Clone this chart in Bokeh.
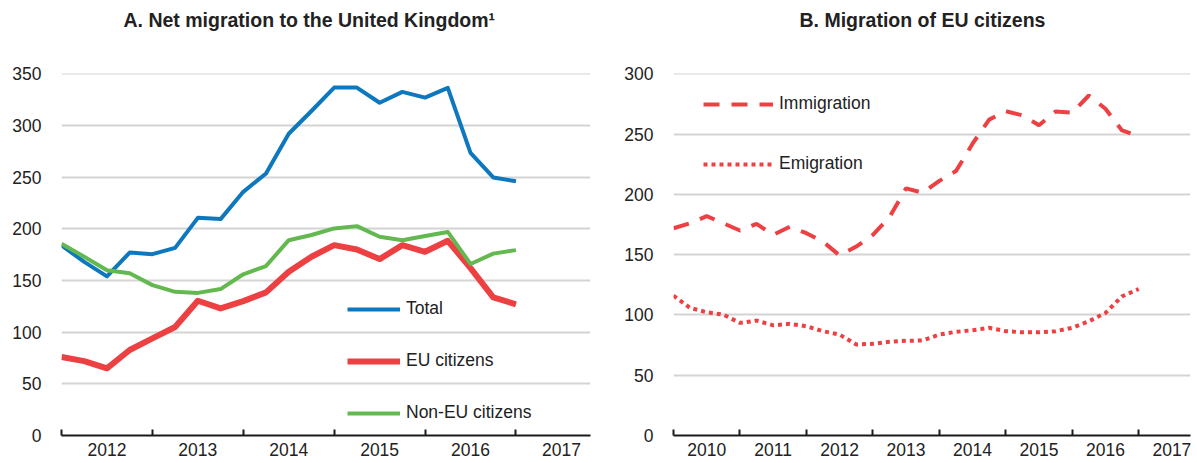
from bokeh.plotting import figure
from bokeh.layouts import row
from bokeh.models import FixedTicker, Legend, LegendItem, Range1d, Title
from bokeh.embed import file_html
from bokeh.resources import INLINE

FONT = "'Liberation Sans', Arial, sans-serif"
TXT = "#222222"
FS = "17.5px"

# ---------------- Panel A data (quarterly, thousands) ----------------
a_quarters = ["2012Q1", "2012Q2", "2012Q3", "2012Q4", "2013Q1", "2013Q2", "2013Q3",
              "2013Q4", "2014Q1", "2014Q2", "2014Q3", "2014Q4", "2015Q1", "2015Q2",
              "2015Q3", "2015Q4", "2016Q1", "2016Q2", "2016Q3", "2016Q4", "2017Q1"]
total = [184, 168, 154, 177, 175.5, 181.6, 210.6, 209.4, 235.8, 253.6, 292, 314,
         336.7, 336.7, 322, 332.5, 327, 336.4, 273.5, 249.7, 246]
eu_citizens = [76, 72, 65, 82.7, 94, 105, 130.4, 123, 130, 138.5, 158.4, 173,
               184.2, 180, 170.7, 184.2, 177.8, 188.4, 162, 133.6, 127]
non_eu_citizens = [185.5, 173, 160, 157, 145.5, 139, 138, 141.7, 156, 164, 189, 194,
                   200.4, 202.6, 192.3, 189, 193, 197, 166, 176, 179.4]
a_years = [2012, 2013, 2014, 2015, 2016, 2017]
a_yticks = [0, 50, 100, 150, 200, 250, 300, 350]
a_title = "A. Net migration to the United Kingdom\u00b9"

# ---------------- Panel B data (quarterly, thousands) ----------------
b_quarters = [f"{y}Q{q}" for y in range(2010, 2017) for q in range(1, 5)] + ["2017Q1"]
immigration = [171.9, 176, 182, 176, 170, 175.5, 166.4, 173.2, 167.8, 160.8, 149.3,
               156.7, 166.4, 181, 205, 201.3, 211.2, 219.3, 242, 262, 269, 265.5,
               257.3, 268.8, 267.8, 282, 271, 253, 248.2]
emigration = [116, 105.8, 102.2, 100.2, 93.4, 95.3, 91.4, 92.6, 90.6, 86.5, 83.7,
              75.5, 76, 77.7, 78.5, 78.8, 83.7, 86, 87.3, 89.3, 86.5, 85.6, 85.6,
              86.5, 89.3, 94.7, 101.6, 115.4, 121.5]
b_years = [2010, 2011, 2012, 2013, 2014, 2015, 2016, 2017]
b_yticks = [0, 50, 100, 150, 200, 250, 300]
b_title = "B. Migration of EU citizens"

H = 463
TOP = 73
BOTTOM = 28


def qpos(labels):
    return [int(s[:4]) + (int(s[5]) - 1) / 4 for s in labels]


def style(p, years, yticks, title_offset):
    p.outline_line_color = None
    p.background_fill_color = "white"
    p.border_fill_color = "white"
    xa = p.xaxis[0]
    xa.ticker = FixedTicker(ticks=[y + 0.5 for y in years], minor_ticks=years)
    xa.major_label_overrides = {y + 0.5: str(y) for y in years}
    xa.major_tick_in = 0
    xa.major_tick_out = 0
    xa.minor_tick_in = 6
    xa.minor_tick_out = 0
    xa.minor_tick_line_color = "#1a1a1a"
    xa.minor_tick_line_width = 2
    xa.axis_line_color = "#1a1a1a"
    xa.axis_line_width = 2
    xa.major_label_text_font = FONT
    xa.major_label_text_font_size = FS
    xa.major_label_text_color = TXT
    xa.major_label_standoff = 7
    p.xgrid.grid_line_color = None
    ya = p.yaxis[0]
    ya.ticker = FixedTicker(ticks=yticks)
    ya.axis_line_color = None
    ya.major_tick_line_color = None
    ya.minor_tick_line_color = None
    ya.major_label_text_font = FONT
    ya.major_label_text_font_size = FS
    ya.major_label_text_color = TXT
    ya.major_label_standoff = 14
    p.ygrid.ticker = FixedTicker(ticks=[t for t in yticks if t > 0])
    p.ygrid.grid_line_color = "#d4d4d4"
    p.ygrid.grid_line_width = 2
    # title (outermost) and a blank spacer panel between it and the frame
    p.title.text_font = FONT
    p.title.text_font_size = "19.5px"
    p.title.text_font_style = "bold"
    p.title.text_color = TXT
    p.title.align = "left"
    p.title.offset = title_offset
    p.title.standoff = 10
    p.add_layout(Title(text=" ", text_font_size="10px", standoff=25), "above")


# ---------------- Panel A ----------------
pa = figure(width=600, height=H, output_backend="svg", toolbar_location=None,
            title=a_title,
            x_range=Range1d(2012.0, 2017.82), y_range=Range1d(0, 350.3),
            min_border_left=61, min_border_right=10, min_border_top=TOP,
            min_border_bottom=BOTTOM)
xa_pts = qpos(a_quarters)
r_total = pa.line(xa_pts, total, line_color="#0E78BE", line_width=4, line_join="round")
r_eu = pa.line(xa_pts, eu_citizens, line_color="#ED4043", line_width=6, line_join="round")
r_non = pa.line(xa_pts, non_eu_citizens, line_color="#63B950", line_width=4, line_join="round")
style(pa, a_years, a_yticks, 62)
leg_a = Legend(items=[LegendItem(label="Total", renderers=[r_total]),
                     LegendItem(label="EU citizens", renderers=[r_eu]),
                     LegendItem(label="Non-EU citizens", renderers=[r_non])],
               location=(286, 12), glyph_width=53, glyph_height=20, label_height=20,
               spacing=31, label_standoff=6, padding=0, margin=0,
               border_line_color=None, background_fill_alpha=0,
               label_text_font=FONT, label_text_font_size=FS, label_text_color=TXT)
pa.add_layout(leg_a)

# ---------------- Panel B ----------------
pb = figure(width=597, height=H, output_backend="svg", toolbar_location=None,
            title=b_title,
            x_range=Range1d(2010.0, 2017.78), y_range=Range1d(0, 300.25),
            min_border_left=73, min_border_right=7, min_border_top=TOP,
            min_border_bottom=BOTTOM)
xb_pts = qpos(b_quarters)
r_imm = pb.line(xb_pts, immigration, line_color="#ED4043", line_width=4,
                line_dash="16 12", line_cap="butt")
r_emi = pb.line(xb_pts, emigration, line_color="#ED4043", line_width=4,
                line_dash="4 4", line_cap="butt")
style(pb, b_years, b_yticks, 126)
leg_b = Legend(items=[LegendItem(label="Immigration", renderers=[r_imm]),
                     LegendItem(label="Emigration", renderers=[r_emi])],
               location=(30, 261), glyph_width=70, glyph_height=20, label_height=20,
               spacing=39, label_standoff=6, padding=0, margin=0,
               border_line_color=None, background_fill_alpha=0,
               label_text_font=FONT, label_text_font_size=FS, label_text_color=TXT)
pb.add_layout(leg_b)

layout = row(pa, pb)
open("out.html", "w").write(file_html(layout, INLINE))
